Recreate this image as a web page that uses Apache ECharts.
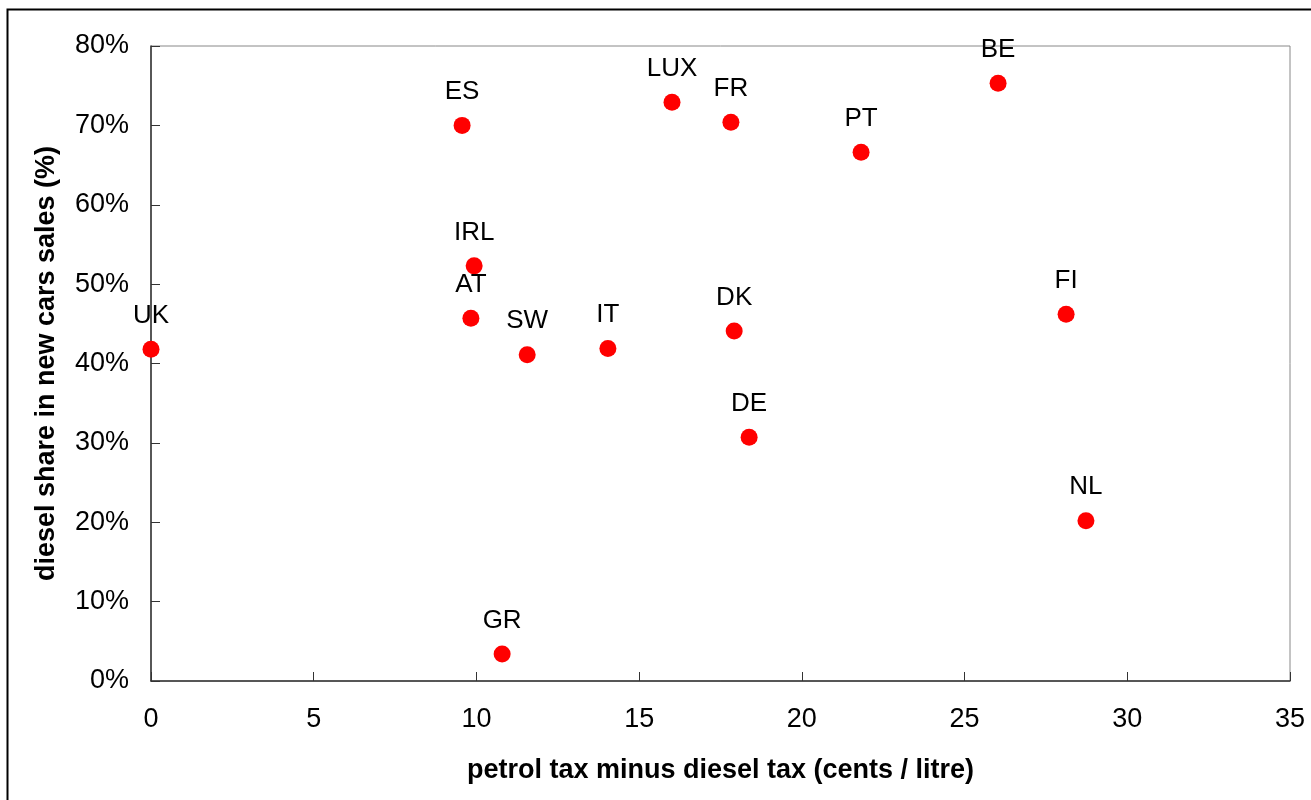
<!DOCTYPE html>
<html>
<head>
<meta charset="utf-8">
<script src="https://cdn.jsdelivr.net/npm/echarts@6/dist/echarts.min.js"></script>
<style>
  html,body{margin:0;padding:0;background:#fff;}
  #chart{width:1311px;height:800px;}
</style>
</head>
<body>
<div id="chart"></div>
<script>
// country codes and their readings
const countries = ['UK','ES','IRL','AT','SW','GR','IT','LUX','FR','DK','DE','PT','BE','FI','NL'];
const taxGap = [0, 9.56, 9.93, 9.83, 11.56, 10.79, 14.04, 16.01, 17.82, 17.92, 18.38, 21.82, 26.03, 28.12, 28.73];
const dieselShare = [41.8, 70.0, 52.3, 45.7, 41.1, 3.4, 41.9, 72.9, 70.4, 44.1, 30.7, 66.6, 75.3, 46.2, 20.2];

const points = countries.map((c,i)=>({name:c, value:[taxGap[i], dieselShare[i]]}));

const chart = echarts.init(document.getElementById('chart'));
const font = 'Liberation Sans, Arial, sans-serif';

chart.setOption({
  animation:false,
  backgroundColor:'#fff',
  textStyle:{fontFamily:font},
  grid:{left:151, right:21, top:46, bottom:119, show:true, borderColor:'#888', borderWidth:1},
  graphic:[{
    type:'rect',
    shape:{x:7.5, y:9.5, width:1400, height:900},
    style:{fill:'none', stroke:'#000', lineWidth:2},
    silent:true
  }],
  xAxis:{
    type:'value', min:0, max:35, interval:5,
    name:'petrol tax minus diesel tax (cents / litre)',
    nameLocation:'middle', nameGap:76,
    nameTextStyle:{fontSize:27, fontWeight:'bold', color:'#000', fontFamily:font},
    axisLine:{show:true, lineStyle:{color:'#333', width:1.5}},
    axisTick:{show:true, inside:true, length:9, lineStyle:{color:'#333'}},
    axisLabel:{fontSize:27, color:'#000', margin:25, fontFamily:font},
    splitLine:{show:false}
  },
  yAxis:{
    type:'value', min:0, max:80, interval:10,
    name:'diesel share in new cars sales (%)',
    nameLocation:'middle', nameGap:91,
    nameTextStyle:{fontSize:27, fontWeight:'bold', color:'#000', fontFamily:font},
    axisLine:{show:true, lineStyle:{color:'#333', width:1.5}},
    axisTick:{show:true, inside:true, length:9, lineStyle:{color:'#333'}},
    axisLabel:{fontSize:27, color:'#000', margin:22, formatter:'{value}%', fontFamily:font, padding:[3,0,0,0]},
    splitLine:{show:false}
  },
  series:[{
    type:'scatter',
    data:points,
    symbolSize:17,
    itemStyle:{color:'#ff0000', opacity:1},
    label:{
      show:true, position:'top', distance:12,
      formatter:p=>p.name,
      fontSize:26, color:'#000', fontFamily:font
    }
  }]
});
</script>
</body>
</html>
